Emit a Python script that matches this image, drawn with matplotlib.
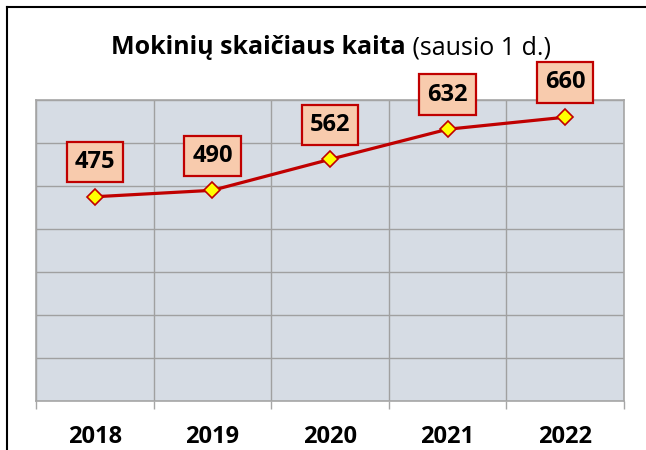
import matplotlib
matplotlib.use("Agg")
import matplotlib.pyplot as plt
from matplotlib.lines import Line2D

# data
years = ["2018", "2019", "2020", "2021", "2022"]
students = [475, 490, 562, 632, 660]

title_bold = "Mokinių skaičiaus kaita"
title_rest = "(sausio 1 d.)"

plt.rcParams['font.family'] = ['Open Sans', 'DejaVu Sans']

fig = plt.figure(figsize=(6.46, 4.5), dpi=100)
ax = fig.add_axes([36/646, 1 - 401/450, 588/646, 301/450])

red = "#C00000"
ax.set_facecolor("#D6DCE4")
x = list(range(len(years)))
ax.plot(x, students, color=red, lw=2.3, marker="D", ms=8,
        mfc="#FFFF00", mec=red, mew=1.2, zorder=3)

for xi, v in zip(x, students):
    ax.annotate(str(v), (xi, v), xytext=(0, 25), textcoords="offset points",
                ha="center", va="center", fontsize=17, fontweight="bold",
                bbox=dict(boxstyle="square,pad=0.34", fc="#F8CBAD", ec=red, lw=1.6),
                zorder=4)

ax.set_xlim(-0.5, len(years) - 0.5)
ax.set_ylim(0, 700)
ax.set_yticks(range(0, 701, 100))
ax.set_yticklabels([])
ax.tick_params(axis="y", length=0)
ax.set_xticks(x)
ax.set_xticklabels(years, fontsize=17, fontweight="bold")
ax.tick_params(axis="x", which="major", length=0, pad=17)
ax.set_xticks([i - 0.5 for i in range(len(years) + 1)], minor=True)
ax.tick_params(axis="x", which="minor", length=6, color="#A6A6A6", width=1)
ax.grid(True, axis="y", color="#A0A0A0", lw=1)
ax.grid(True, axis="x", which="minor", color="#A0A0A0", lw=1)
ax.set_axisbelow(True)
for s in ax.spines.values():
    s.set_color("#A6A6A6")
    s.set_linewidth(1.2)

# title: bold part + regular part
fig.canvas.draw()
r = fig.canvas.get_renderer()
t1 = fig.text(0, 1 - 48/450, title_bold, fontsize=18, fontweight="bold", va="center")
t2 = fig.text(0, 1 - 48/450, " " + title_rest, fontsize=18, va="center")
w1 = t1.get_window_extent(r).width
w2 = t2.get_window_extent(r).width
x0 = 331 - (w1 + w2) / 2
t1.set_x(x0 / 646)
t2.set_x((x0 + w1) / 646)

# outer frame
fig.add_artist(Line2D([7/646, 7/646], [0, 1 - 7/450], color="black", lw=1.5))
fig.add_artist(Line2D([7/646, 1], [1 - 7/450, 1 - 7/450], color="black", lw=1.5))

fig.savefig("out.png", dpi=100)
